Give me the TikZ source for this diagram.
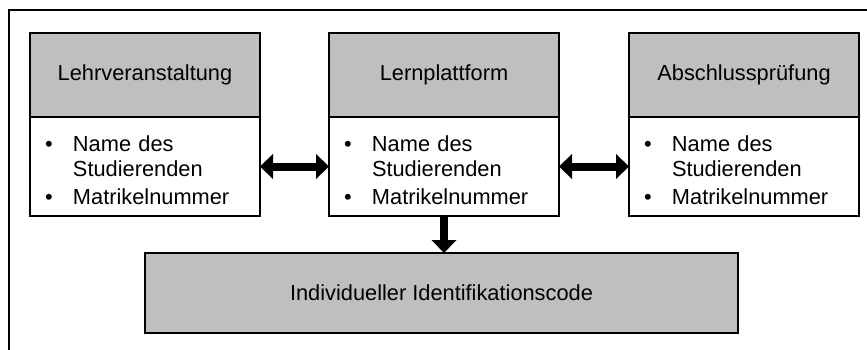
\documentclass[tikz,border=0pt]{standalone}
\usepackage{fontspec}
\setmainfont{Liberation Sans}
\usetikzlibrary{arrows.meta,positioning}

\tikzset{
  kopf/.style={draw, line width=1.6pt, fill=black!25, outer sep=0pt, inner sep=0pt,
    minimum width=230pt, minimum height=84pt},
  inhalt/.style={draw, line width=1.6pt, fill=white, outer sep=0pt, inner xsep=15pt,
    inner ysep=0pt, text width=200pt, minimum height=99pt, align=left},
  pfeil/.style={line width=8pt, -{Triangle[length=13pt,width=25pt,line width=0pt]}},
  doppelpfeil/.style={line width=8pt, {Triangle[length=13pt,width=25pt,line width=0pt]}-{Triangle[length=13pt,width=25pt,line width=0pt]}},
}
\newcommand{\studdaten}{%
  \begin{tabular}{@{}p{28pt}@{}l@{}}
    \rule{0pt}{29.5pt}\textbullet & Name des\\
                & Studierenden\\[3pt]
    \textbullet & Matrikelnummer
  \end{tabular}}

\begin{document}
\begin{tikzpicture}[x=1pt,y=-1pt,font=\fontsize{21.8}{25}\selectfont]
  \useasboundingbox (0,0) rectangle (867,350);
  % Rahmen
  \draw[line width=1.6pt] (867,10) -- (9,10) -- (9,350);

  % drei Quellen
  \node[kopf] (lehrkopf) at (145,75) {Lehrveranstaltung};
  \node[inhalt, below=0pt of lehrkopf] (lehrinhalt) {\studdaten};

  \node[kopf] (plattformkopf) at (444,75) {Lernplattform};
  \node[inhalt, below=0pt of plattformkopf] (plattforminhalt) {\studdaten};

  \node[kopf] (pruefkopf) at (744,75) {Abschlussprüfung};
  \node[inhalt, below=0pt of pruefkopf] (pruefinhalt) {\studdaten};

  % Ergebnis
  \node[kopf, minimum width=593pt, minimum height=80pt] (code) at (441.5,293)
    {Individueller Identifikationscode};

  % Verbindungen
  \draw[doppelpfeil] (lehrinhalt.east) -- (plattforminhalt.west);
  \draw[doppelpfeil] (plattforminhalt.east) -- (pruefinhalt.west);
  \draw[pfeil] (plattforminhalt.south) -- (plattforminhalt.south |- code.north);
\end{tikzpicture}
\end{document}
